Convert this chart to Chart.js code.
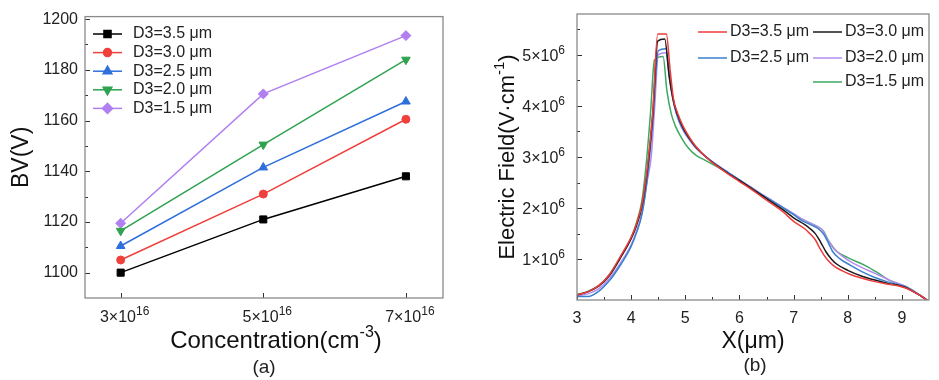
<!DOCTYPE html>
<html>
<head>
<meta charset="utf-8">
<script src="https://cdn.jsdelivr.net/npm/chart.js@4.4.0/dist/chart.umd.min.js"></script>
<style>
  body { margin: 0; background: #fff; width: 939px; height: 380px; position: relative; overflow: hidden;
         font-family: "Liberation Sans", Arial, sans-serif; }
  canvas { position: absolute; top: 0; }
  #chartA { left: 0; }
  #chartB { left: 470px; }
  .cap { position: absolute; font-size: 19px; color: #222; transform: translateX(-50%); line-height: 1; }
</style>
</head>
<body>
<canvas id="chartA" width="470" height="380"></canvas>
<canvas id="chartB" width="469" height="380"></canvas>
<div class="cap" style="left:264px;top:357px">(a)</div>
<div class="cap" style="left:755px;top:355px">(b)</div>
<script>
"use strict";
///////////////////////////////
//Data - panel (a)
const concentration = [3, 5, 7]; // x 10^16 cm^-3
const concLabels = [["3×10", "16"], ["5×10", "16"], ["7×10", "16"]];
const bvTicks = [1100, 1120, 1140, 1160, 1180, 1200];
const bv35 = [1100, 1121, 1138];
const bv30 = [1105, 1131, 1160.5];
const bv25 = [1110.5, 1141.5, 1167.5];
const bv20 = [1116.5, 1150.5, 1184];
const bv15 = [1119.5, 1170.5, 1193.5];

//Data - panel (b), [X (um), E (x10^6 V/cm)]
const xTicks = [3, 4, 5, 6, 7, 8, 9];
const fieldTicks = [1, 2, 3, 4, 5];
const fieldLabels = [["1×10", "6"], ["2×10", "6"], ["3×10", "6"], ["4×10", "6"], ["5×10", "6"]];
const field35 = [[3.0,0.30],[3.2,0.36],[3.4,0.48],[3.6,0.70],[3.8,1.05],[4.0,1.43],[4.1,1.70],[4.2,2.08],[4.3,2.8],[4.4,3.9],[4.49,5.41],[4.65,5.41],[4.72,4.7],[4.78,4.15],[4.86,3.85],[4.96,3.6],[5.08,3.38],[5.2,3.2],[5.4,2.98],[5.6,2.81],[5.8,2.66],[6.0,2.52],[6.2,2.38],[6.4,2.23],[6.6,2.08],[6.8,1.93],[7.0,1.74],[7.2,1.6],[7.3,1.5],[7.4,1.38],[7.48,1.22],[7.56,1.08],[7.65,0.96],[7.74,0.87],[7.9,0.77],[8.05,0.70],[8.25,0.63],[8.5,0.56],[8.75,0.51],[8.96,0.47],[9.08,0.43],[9.2,0.37],[9.35,0.28],[9.5,0.17]];
const field30 = [[3.0,0.30],[3.2,0.36],[3.4,0.47],[3.6,0.68],[3.8,1.02],[4.0,1.40],[4.1,1.66],[4.2,2.04],[4.3,2.75],[4.4,3.85],[4.49,5.27],[4.62,5.31],[4.7,4.6],[4.78,4.1],[4.86,3.82],[4.96,3.57],[5.08,3.36],[5.2,3.19],[5.4,2.98],[5.6,2.82],[5.8,2.67],[6.0,2.54],[6.2,2.4],[6.4,2.26],[6.6,2.11],[6.8,1.97],[7.0,1.81],[7.2,1.68],[7.3,1.6],[7.4,1.5],[7.5,1.33],[7.6,1.14],[7.7,1.0],[7.8,0.9],[8.0,0.78],[8.25,0.67],[8.5,0.59],[8.75,0.52],[8.96,0.48],[9.08,0.44],[9.2,0.37],[9.35,0.28],[9.5,0.17]];
const field25 = [[3.0,0.27],[3.2,0.27],[3.4,0.37],[3.6,0.58],[3.8,0.88],[4.0,1.25],[4.1,1.52],[4.2,1.88],[4.3,2.6],[4.4,3.7],[4.5,5.08],[4.64,5.12],[4.72,4.5],[4.8,4.0],[4.88,3.72],[4.98,3.5],[5.1,3.32],[5.2,3.18],[5.4,2.99],[5.6,2.83],[5.8,2.69],[6.0,2.55],[6.2,2.41],[6.4,2.27],[6.6,2.14],[6.8,2.01],[7.0,1.87],[7.13,1.77],[7.3,1.68],[7.45,1.6],[7.56,1.48],[7.65,1.3],[7.72,1.15],[7.85,1.01],[8.05,0.88],[8.25,0.76],[8.5,0.64],[8.75,0.55],[8.96,0.49],[9.08,0.45],[9.2,0.38],[9.35,0.28],[9.5,0.17]];
const field20 = [[3.0,0.28],[3.2,0.32],[3.4,0.42],[3.6,0.62],[3.8,0.92],[4.0,1.28],[4.1,1.55],[4.2,1.9],[4.3,2.55],[4.37,3.0],[4.43,3.9],[4.5,5.0],[4.64,5.04],[4.72,4.45],[4.8,3.98],[4.88,3.7],[4.98,3.48],[5.1,3.3],[5.2,3.17],[5.4,2.99],[5.6,2.83],[5.8,2.69],[6.0,2.55],[6.2,2.42],[6.4,2.28],[6.6,2.15],[6.8,2.02],[7.0,1.89],[7.13,1.8],[7.3,1.71],[7.45,1.63],[7.53,1.57],[7.62,1.4],[7.74,1.21],[7.9,1.06],[8.05,0.95],[8.25,0.84],[8.48,0.73],[8.75,0.6],[8.96,0.51],[9.08,0.46],[9.2,0.39],[9.35,0.28],[9.5,0.17]];
const field15 = [[3.0,0.30],[3.2,0.37],[3.4,0.48],[3.6,0.70],[3.8,1.04],[4.0,1.42],[4.1,1.72],[4.2,2.15],[4.29,3.0],[4.36,3.9],[4.43,4.9],[4.59,4.97],[4.66,4.3],[4.74,3.85],[4.82,3.6],[4.9,3.43],[5.06,3.17],[5.2,3.03],[5.36,2.94],[5.6,2.8],[5.8,2.68],[6.0,2.54],[6.2,2.41],[6.4,2.27],[6.6,2.14],[6.8,2.01],[7.0,1.88],[7.13,1.8],[7.3,1.71],[7.45,1.63],[7.55,1.55],[7.65,1.35],[7.8,1.15],[8.0,1.03],[8.35,0.86],[8.6,0.7],[8.78,0.58],[8.96,0.51],[9.08,0.46],[9.2,0.39],[9.35,0.28],[9.5,0.17]];

const FONT = "'Liberation Sans', Arial, sans-serif";

//////////////////////////////
//Helpers

// draw text made of parts {t, size, dy}; align "left" | "center" | "right"
const drawRich = function (ctx, parts, x, y, align, rot) {
  ctx.save();
  ctx.translate(x, y);
  if (rot) ctx.rotate(rot);
  ctx.textBaseline = "alphabetic";
  ctx.textAlign = "left";
  let w = 0;
  parts.forEach(p => { ctx.font = p.size + "px " + FONT; p.w = ctx.measureText(p.t).width; w += p.w; });
  let cx = align === "center" ? -w / 2 : align === "right" ? -w : 0;
  parts.forEach(p => {
    ctx.font = p.size + "px " + FONT;
    ctx.fillText(p.t, cx, p.dy || 0);
    cx += p.w;
  });
  ctx.restore();
};

//////////////////////////////
//Plugins

// box round the plot + inward ticks
const frameTicks = {
  id: "frameTicks",
  afterDraw(chart, args, opts) {
    const { ctx, chartArea: a, scales } = chart;
    ctx.save();
    ctx.strokeStyle = "#333";
    ctx.lineWidth = 1;
    ctx.beginPath();
    const tickX = (vals, len) => vals.forEach(v => {
      const px = Math.round(scales.x.getPixelForValue(v)) + 0.5;
      ctx.moveTo(px, a.bottom); ctx.lineTo(px, a.bottom - len);
    });
    const tickY = (vals, len) => vals.forEach(v => {
      const py = Math.round(scales.y.getPixelForValue(v)) + 0.5;
      ctx.moveTo(a.left, py); ctx.lineTo(a.left + len, py);
    });
    tickX(opts.xMajor, 5); tickX(opts.xMinor, 3);
    tickY(opts.yMajor, 5); tickY(opts.yMinor, 3);
    ctx.stroke();
    ctx.strokeStyle = "#8a8a8a";
    ctx.lineWidth = 1.3;
    ctx.strokeRect(a.left, a.top, a.right - a.left, a.bottom - a.top);
    ctx.restore();
  }
};

// tick labels and titles that need superscripts
const richText = {
  id: "richText",
  afterDraw(chart, args, opts) {
    const { ctx, chartArea: a, scales } = chart;
    ctx.save();
    ctx.fillStyle = "#222";
    if (opts.xLabels) opts.xLabels.values.forEach((v, i) => {
      const lab = opts.xLabels.labels[i];
      drawRich(ctx, [{ t: lab[0], size: 16 }, { t: lab[1], size: 12, dy: -7 }],
        scales.x.getPixelForValue(v) + 4, a.bottom + 24, "center");
    });
    if (opts.yLabels) opts.yLabels.values.forEach((v, i) => {
      const lab = opts.yLabels.labels[i];
      drawRich(ctx, [{ t: lab[0], size: 16 }, { t: lab[1], size: 12, dy: -7 }],
        a.left - 12, scales.y.getPixelForValue(v) + 6, "right");
    });
    ctx.fillStyle = "#111";
    (opts.titles || []).forEach(tt => drawRich(ctx, tt.parts, tt.x(a), tt.y(a), "center", tt.rot));
    ctx.restore();
  }
};

// legend drawn inside the plot
const insideLegend = {
  id: "insideLegend",
  afterDraw(chart, args, opts) {
    const ctx = chart.ctx;
    ctx.save();
    ctx.font = opts.font;
    ctx.textBaseline = "middle";
    opts.items.forEach(it => {
      const ds = chart.data.datasets[it.index];
      ctx.strokeStyle = ds.borderColor;
      ctx.lineWidth = ds.borderWidth;
      ctx.beginPath();
      ctx.moveTo(it.x, it.y);
      ctx.lineTo(it.x + opts.lineLen, it.y);
      ctx.stroke();
      if (ds.pointRadius) {
        ctx.fillStyle = ds.backgroundColor;
        Chart.helpers.drawPoint(ctx, {
          pointStyle: ds.pointStyle, radius: ds.pointRadius,
          rotation: ds.pointRotation || 0, borderWidth: 1
        }, it.x + opts.lineLen / 2, it.y);
      }
      ctx.fillStyle = "#222";
      ctx.fillText(ds.label, it.x + opts.lineLen + opts.gap, it.y);
    });
    ctx.restore();
  }
};

const tickFont = { family: FONT, size: 16 };

//////////////////////////////
//Panel (a)
const seriesA = [
  { label: "D3=3.5 μm", data: bv35, color: "#000000", style: "rect", r: 5, rot: 0 },
  { label: "D3=3.0 μm", data: bv30, color: "#f0403c", style: "circle", r: 4, rot: 0 },
  { label: "D3=2.5 μm", data: bv25, color: "#2f6fdc", style: "triangle", r: 5, rot: 0 },
  { label: "D3=2.0 μm", data: bv20, color: "#2fa24f", style: "triangle", r: 5, rot: 180 },
  { label: "D3=1.5 μm", data: bv15, color: "#b07ff0", style: "rectRot", r: 5, rot: 0 }
];

new Chart(document.getElementById("chartA"), {
  type: "line",
  data: {
    datasets: seriesA.map(s => ({
      label: s.label,
      data: s.data.map((v, i) => ({ x: concentration[i], y: v })),
      borderColor: s.color,
      backgroundColor: s.color,
      borderWidth: 1.5,
      pointStyle: s.style,
      pointRadius: s.r,
      pointRotation: s.rot,
      pointBorderWidth: 1,
      tension: 0
    }))
  },
  options: {
    responsive: false,
    animation: false,
    devicePixelRatio: 1,
    layout: { padding: { top: 13, right: 27, left: 0, bottom: 0 } },
    plugins: {
      legend: { display: false },
      tooltip: { enabled: false },
      frameTicks: { xMajor: concentration, xMinor: [], yMajor: bvTicks, yMinor: [1110, 1130, 1150, 1170, 1190] },
      richText: {
        xLabels: { values: concentration, labels: concLabels },
        titles: [{
          parts: [{ t: "Concentration(cm", size: 24 }, { t: "-3", size: 16, dy: -11 }, { t: ")", size: 24 }],
          x: a => (a.left + a.right) / 2 + 12, y: () => 348
        }]
      },
      insideLegend: {
        font: "16px " + FONT, lineLen: 29, gap: 11,
        items: [0, 1, 2, 3, 4].map(i => ({ index: i, x: 93, y: 34 + i * 18.6 }))
      }
    },
    scales: {
      x: {
        type: "linear", min: 2.5, max: 7.52,
        afterFit: s => { s.height = 82; },
        afterBuildTicks: s => { s.ticks = concentration.map(v => ({ value: v })); },
        grid: { display: false, drawTicks: false },
        border: { display: false },
        ticks: { display: false }
      },
      y: {
        type: "linear", min: 1090, max: 1201,
        afterFit: s => { s.width = 85; },
        afterBuildTicks: s => { s.ticks = bvTicks.map(v => ({ value: v })); },
        grid: { display: false, drawTicks: false },
        border: { display: false },
        ticks: { padding: 7, color: "#222", font: tickFont, callback: v => String(v) },
        title: {
          display: true, text: "BV(V)", color: "#111",
          font: { family: FONT, size: 23 },
          padding: { top: 8, bottom: 0 }
        }
      }
    }
  },
  plugins: [frameTicks, richText, insideLegend]
});

//////////////////////////////
//Panel (b)
const seriesB = [
  { label: "D3=3.5 μm", data: field35, color: "#ee3b3b" },
  { label: "D3=3.0 μm", data: field30, color: "#1a1a1a" },
  { label: "D3=2.5 μm", data: field25, color: "#3a80cc" },
  { label: "D3=2.0 μm", data: field20, color: "#b68cef" },
  { label: "D3=1.5 μm", data: field15, color: "#3fa862" }
];

new Chart(document.getElementById("chartB"), {
  type: "line",
  data: {
    datasets: seriesB.map(s => ({
      label: s.label,
      data: s.data.map(p => ({ x: p[0], y: p[1] })),
      borderColor: s.color,
      backgroundColor: s.color,
      borderWidth: 1.5,
      pointRadius: 0,
      cubicInterpolationMode: "monotone"
    }))
  },
  options: {
    responsive: false,
    animation: false,
    devicePixelRatio: 1,
    layout: { padding: { top: 14, right: 10, left: 0, bottom: 0 } },
    plugins: {
      legend: { display: false },
      tooltip: { enabled: false },
      frameTicks: {
        xMajor: xTicks, xMinor: [3.5, 4.5, 5.5, 6.5, 7.5, 8.5],
        yMajor: fieldTicks, yMinor: [1.5, 2.5, 3.5, 4.5, 5.5]
      },
      richText: {
        yLabels: { values: fieldTicks, labels: fieldLabels },
        titles: [{
          parts: [{ t: "Electric Field(V·cm", size: 22 }, { t: "-1", size: 15, dy: -10 }, { t: ")", size: 22 }],
          x: () => 44, y: a => (a.top + a.bottom) / 2, rot: -Math.PI / 2
        }]
      },
      insideLegend: {
        font: "16px " + FONT, lineLen: 29, gap: 3,
        items: [
          { index: 0, x: 228, y: 32 }, { index: 1, x: 343, y: 32 },
          { index: 2, x: 228, y: 58 }, { index: 3, x: 343, y: 58 },
          { index: 4, x: 343, y: 82 }
        ]
      }
    },
    scales: {
      x: {
        type: "linear", min: 3, max: 9.5,
        afterFit: s => { s.height = 80; },
        afterBuildTicks: s => { s.ticks = xTicks.map(v => ({ value: v })); },
        grid: { display: false, drawTicks: false },
        border: { display: false },
        ticks: { padding: 9, color: "#222", font: tickFont, maxRotation: 0 },
        title: {
          display: true, text: "X(μm)", color: "#111",
          font: { family: FONT, size: 23 },
          padding: { top: 0, bottom: 25 }
        }
      },
      y: {
        type: "linear", min: 0.2, max: 5.8,
        afterFit: s => { s.width = 107; },
        afterBuildTicks: s => { s.ticks = fieldTicks.map(v => ({ value: v })); },
        grid: { display: false, drawTicks: false },
        border: { display: false },
        ticks: { display: false }
      }
    }
  },
  plugins: [frameTicks, richText, insideLegend]
});
</script>
</body>
</html>
